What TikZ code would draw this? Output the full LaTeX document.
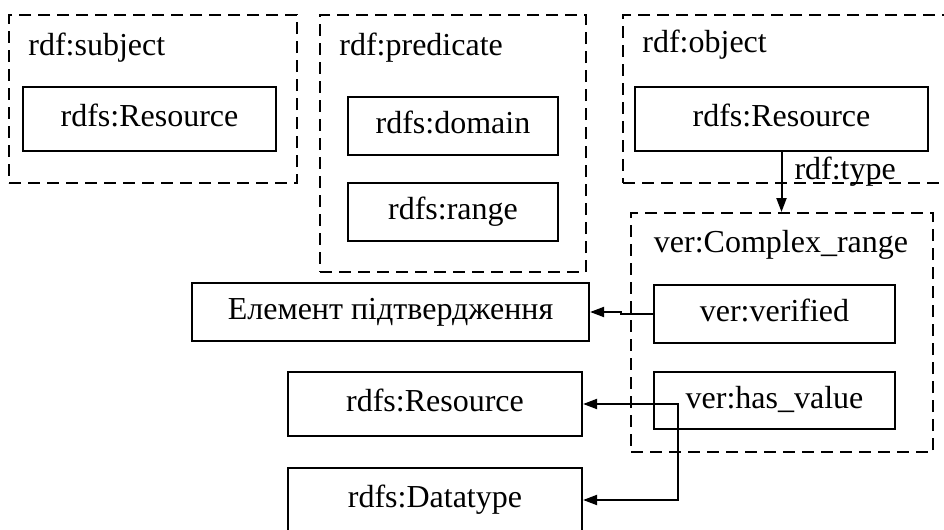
\documentclass[tikz,border=0pt]{standalone}
\usepackage{fontspec}
\setmainfont{Liberation Serif}
\usetikzlibrary{arrows.meta}

\begin{document}
\begin{tikzpicture}[x=0.5pt,y=-0.5pt,
  txt/.style={font=\fontsize{16}{19}\selectfont},
  sz/.style 2 args={minimum width=#1*0.5pt, minimum height=#2*0.5pt},
  box/.style={txt, draw, line width=1.1pt, inner sep=0pt, text height=11pt, text depth=3.5pt},
  group/.style={draw, line width=1pt, dash pattern=on 6pt off 3.5pt, inner sep=0pt},
  title/.style={txt, anchor=base west, inner sep=0pt},
  link/.style={line width=1pt},
  conn/.style={link, -{Triangle[length=7pt,width=5pt]}}]
\useasboundingbox (0,0) rectangle (944,530);
\clip (0,0) rectangle (944,530);

% triple parts
\node[group, sz={288}{168}] (subj) at (153,99) {};
\node[title] (subjtitle) at (28,55) {rdf:subject};
\node[box, sz={253}{64}] (subjres) at (149.5,119) {rdfs:Resource};

\node[group, sz={266}{257}] (pred) at (453,143.5) {};
\node[title] (predtitle) at (339,55) {rdf:predicate};
\node[box, sz={210}{58}] (dom) at (453,126) {rdfs:domain};
\node[box, sz={210}{58}] (rng) at (453,212) {rdfs:range};

\node[group, sz={357}{168}] (obj) at (801.5,99) {};
\node[title] (objtitle) at (642,53) {rdf:object};
\node[box, sz={293}{64}] (objres) at (781.5,119) {rdfs:Resource};

% complex range class
\node[group, sz={302}{239}] (cr) at (782,332.5) {};
\node[txt, anchor=base, inner sep=0pt] (crtitle) at (781,252) {ver:Complex\_range};
\node[box, sz={241}{58}] (ver) at (774.5,314) {ver:verified};
\node[box, sz={241}{57}] (hv) at (774.5,400.5) {ver:has\_value};

% targets
\node[box, sz={397}{58}] (elem) at (390.5,312) {Елемент підтвердження};
\node[box, sz={294}{64}] (res2) at (435,404) {rdfs:Resource};
\node[box, sz={294}{64}] (dt) at (435,500) {rdfs:Datatype};

% connectors
\draw[conn] (objres.south) -- (objres.south |- cr.north)
  node[pos=0.45, anchor=base west, txt, inner sep=0pt, xshift=6pt] (typelbl) {rdf:type};
\draw[conn] (ver.west) -- ++(-32,0) |- (elem.east);
\coordinate (hvtap) at (775,429);
\coordinate (hvfork) at (678,429);
\draw[link] (hvtap) -- (hvfork);
\draw[conn] (hvfork) |- (res2.east);
\draw[conn] (hvfork) |- (dt.east);
\end{tikzpicture}
\end{document}
